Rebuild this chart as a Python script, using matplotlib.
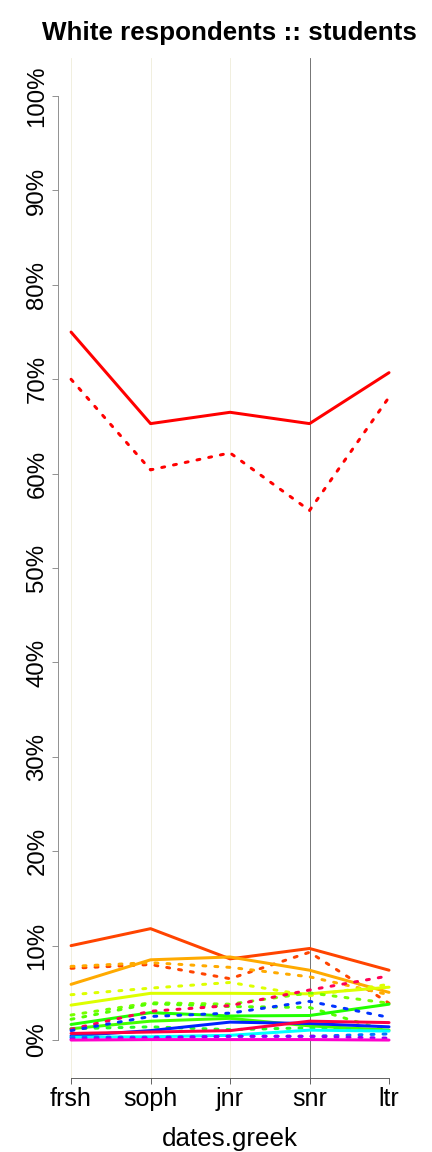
import matplotlib
matplotlib.use("Agg")
import matplotlib.pyplot as plt

categories = ["frsh", "soph", "jnr", "snr", "ltr"]
red = [75.0, 65.3, 66.5, 65.3, 70.7]
red_d = [70.0, 60.4, 62.2, 56.1, 68.1]
orangered = [10.0, 11.8, 8.6, 9.7, 7.4]
orangered_d = [7.6, 8.0, 6.5, 9.3, 3.9]
orange = [5.9, 8.5, 8.8, 7.4, 5.05]
orange_d = [7.8, 8.2, 7.7, 6.7, 4.8]
yellow = [3.7, 4.95, 4.95, 4.9, 5.6]
yellow_d = [4.8, 5.5, 6.1, 4.7, 5.9]
lime_d = [2.65, 3.95, 3.8, 5.0, 3.9]
lime_d2 = [2.2, 3.85, 3.55, 3.45, 0.9]
green = [1.65, 2.9, 2.55, 2.6, 3.8]
green2 = [1.2, 2.0, 2.3, 1.5, 1.05]
green_d2 = [1.2, 1.4, 1.1, 1.3, 1.0]
crimson_d = [1.15, 3.05, 3.65, 5.3, 6.8]
blue_d = [1.0, 2.5, 2.85, 4.1, 2.4]
blue = [0.45, 1.0, 1.9, 1.75, 1.4]
crimson = [0.7, 0.85, 1.0, 2.0, 1.85]
cyan = [0.3, 0.35, 0.5, 1.05, 0.95]
blue_d2 = [0.3, 0.3, 0.4, 0.4, 0.65]
purple_d = [0.1, 0.2, 0.4, 0.4, 0.2]
magenta = [0.0, 0.05, 0.05, 0.05, 0.0]

values = [red, red_d, orangered, orangered_d, orange, orange_d, yellow, yellow_d,
          lime_d, lime_d2, green, green2, green_d2, crimson_d, blue_d, blue,
          crimson, cyan, blue_d2, purple_d, magenta]
colors = ["#FF0000", "#FF0000", "#FF4400", "#FF4400", "#FFAA00", "#FFAA00",
          "#DDFF00", "#DDFF00", "#77FF00", "#55FF00", "#22FF00", "#44FF00",
          "#22FF22", "#FF0055", "#0033FF", "#0022FF", "#FF0044", "#00FFFF",
          "#0077FF", "#8800FF", "#FF00CC"]
styles = ["-", ":", "-", ":", "-", ":", "-", ":", ":", ":", "-", "-", ":",
          ":", ":", "-", "-", "-", ":", ":", "-"]

fig = plt.figure(figsize=(6, 16), dpi=72)
ax = fig.add_axes([0.135, 0.0644, 0.795, 0.885])
x = list(range(1, len(categories) + 1))

for xi in x[:3]:
    ax.axvline(xi, color="#EEEBD8", lw=0.8, zorder=0)
ax.axvline(4, color="#555555", lw=0.8, zorder=0)

for v, c, s in zip(values, colors, styles):
    if s == ":":
        ax.plot(x, v, color=c, lw=3, linestyle=(0, (1, 3)),
                dash_capstyle="round", solid_joinstyle="round")
    else:
        ax.plot(x, v, color=c, lw=3, solid_joinstyle="round",
                solid_capstyle="round")

ax.set_xlim(0.84, 5.16)
ax.set_ylim(-4, 104)
for sp in ["top", "right"]:
    ax.spines[sp].set_visible(False)
ax.spines["left"].set_bounds(0, 100)
ax.spines["bottom"].set_bounds(1, 5)
ax.spines["left"].set_color("#888888")
ax.spines["bottom"].set_color("#555555")
for sp in ["left", "bottom"]:
    ax.spines[sp].set_linewidth(0.9)

fam = ["Liberation Sans", "DejaVu Sans"]
ax.set_xticks(x)
ax.set_xticklabels(categories, fontsize=25, family=fam)
yt = list(range(0, 101, 10))
ax.set_yticks(yt)
ax.set_yticklabels([f"{t}%" for t in yt], fontsize=24, family=fam,
                   rotation=90, va="center")
ax.tick_params(axis="y", direction="out", length=6, width=0.9,
               color="#888888", pad=4)
ax.tick_params(axis="x", direction="out", length=6, width=0.9,
               color="#555555", pad=3)
ax.set_xlabel("dates.greek", fontsize=26, family=fam, labelpad=16)
fig.text(0.532, 0.971, "White respondents :: students", fontsize=26,
         fontweight="bold", family=fam, ha="center", va="center")

fig.savefig("out.png", dpi=72)
